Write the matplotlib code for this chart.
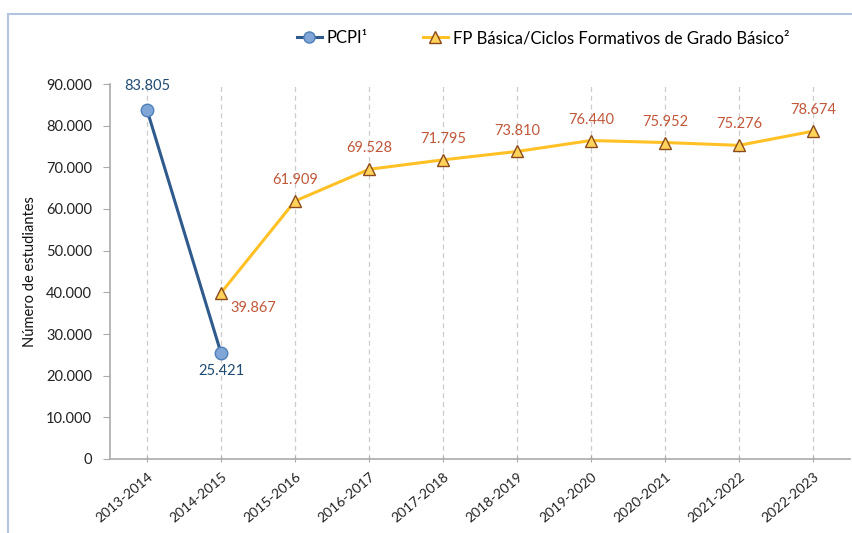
import matplotlib
matplotlib.use("Agg")
import matplotlib.pyplot as plt
from matplotlib.patches import Rectangle
from matplotlib.lines import Line2D

plt.rcParams['font.family'] = ['Lato', 'DejaVu Sans']

categories = ["2013-2014", "2014-2015", "2015-2016", "2016-2017", "2017-2018",
              "2018-2019", "2019-2020", "2020-2021", "2021-2022", "2022-2023"]
pcpi_idx = [0, 1]
pcpi_vals = [83805, 25421]
fp_idx = [1, 2, 3, 4, 5, 6, 7, 8, 9]
fp_vals = [39867, 61909, 69528, 71795, 73810, 76440, 75952, 75276, 78674]
yticks = [0, 10000, 20000, 30000, 40000, 50000, 60000, 70000, 80000, 90000]
ytick_labels = ["0", "10.000", "20.000", "30.000", "40.000", "50.000",
                "60.000", "70.000", "80.000", "90.000"]

def fmt(v):
    return f"{v:,}".replace(",", ".")

fig = plt.figure(figsize=(8.53, 5.33), dpi=100)
fig.patches.append(Rectangle((8/853, -0.1), 1.2, 1 - 14/533 + 0.1,
                             transform=fig.transFigure, fill=False,
                             edgecolor="#B4C3DE", linewidth=1.5))
ax = fig.add_axes([110/853, 1 - 459/533, (850 - 110)/853, (459 - 84)/533])

blue_line = "#2F5A8C"
blue_fill = "#7FA6D6"
blue_edge = "#4F7FBA"
gold = "#FFC125"
tri_fill = "#FFD35A"
tri_edge = "#8B4A1C"
fp_txt = "#C0583A"
pc_txt = "#1F4A72"

ax.plot(pcpi_idx, pcpi_vals, color=blue_line, lw=2.2, marker="o", ms=9,
        mfc=blue_fill, mec=blue_edge, mew=1, zorder=4)
ax.plot(fp_idx, fp_vals, color=gold, lw=2.2, marker="^", ms=9,
        mfc=tri_fill, mec=tri_edge, mew=1, zorder=4)

# labels
ax.annotate(fmt(pcpi_vals[0]), (pcpi_idx[0], pcpi_vals[0]), xytext=(0, 12),
            textcoords="offset points", ha="center", va="bottom",
            color=pc_txt, fontsize=10.5)
ax.annotate(fmt(pcpi_vals[1]), (pcpi_idx[1], pcpi_vals[1]), xytext=(0, -8),
            textcoords="offset points", ha="center", va="top",
            color=pc_txt, fontsize=10.5)
for i, (xi, v) in enumerate(zip(fp_idx, fp_vals)):
    if i == 0:
        ax.annotate(fmt(v), (xi, v), xytext=(7, -6), textcoords="offset points",
                    ha="left", va="top", color=fp_txt, fontsize=10.5)
    else:
        ax.annotate(fmt(v), (xi, v), xytext=(0, 10), textcoords="offset points",
                    ha="center", va="bottom", color=fp_txt, fontsize=10.5)

ax.set_xlim(-0.5, len(categories) - 0.5)
ax.set_ylim(0, 90000)
ax.set_yticks(yticks)
ax.set_yticklabels(ytick_labels, fontsize=10.5, color="#222222")
ax.set_xticks(range(len(categories)))
ax.set_xticklabels(categories, rotation=40, ha="right", va="top",
                   rotation_mode="anchor", fontsize=10, color="#222222")
ax.tick_params(axis="x", length=4, color="#AAAAAA", direction="inout", pad=6)
ax.tick_params(axis="y", length=5, color="#AAAAAA", direction="out", pad=8)

for x in range(len(categories)):
    ax.axvline(x, color="#CCCCCC", lw=0.9, ls=(0, (4, 3)), zorder=1)

for s in ["top", "right"]:
    ax.spines[s].set_visible(False)
ax.spines["left"].set_color("#AAAAAA")
ax.spines["bottom"].set_color("#AAAAAA")
ax.spines["left"].set_linewidth(1.2)
ax.spines["bottom"].set_linewidth(1.2)

ax.set_ylabel("Número de estudiantes", fontsize=10.5, color="#111111", labelpad=6)

handles = [
    Line2D([], [], color=blue_line, lw=2.2, marker="o", ms=8, mfc=blue_fill, mec=blue_edge),
    Line2D([], [], color=gold, lw=2.2, marker="^", ms=8, mfc=tri_fill, mec=tri_edge),
]
fig.legend(handles, ["PCPI¹", "FP Básica/Ciclos Formativos de Grado Básico²"],
           loc="center", bbox_to_anchor=(543/853, 1 - 38/533), ncol=2,
           frameon=False, fontsize=12, handlelength=1.5, handletextpad=0.3,
           columnspacing=3.3)

fig.savefig("out.png", dpi=100)
